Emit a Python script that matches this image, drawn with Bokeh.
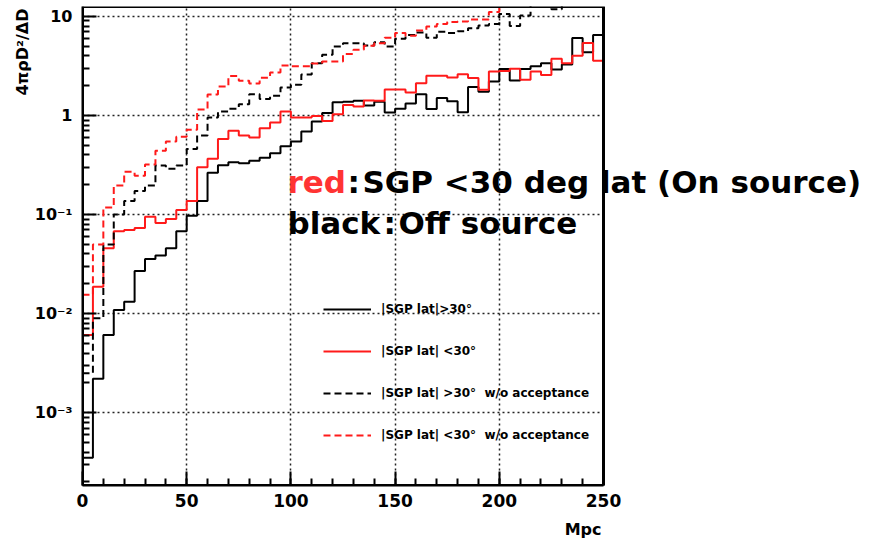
import math
from bokeh.plotting import figure
from bokeh.models import (Range1d, FixedTicker, CustomJSTickFormatter, Label, Legend, LegendItem,
                          BoxAnnotation, Title, Grid)
from bokeh.embed import file_html
from bokeh.resources import INLINE

# ---- data -------------------------------------------------------------
bin_edges = list(range(0, 255, 5))  # Mpc, 50 bins of 5 Mpc

off_source = [3.5e-4, 2.2e-3, 6.1e-3, 0.0109, 0.0132, 0.027, 0.0356, 0.0385, 0.0457, 0.068,
              0.097, 0.137, 0.265, 0.315, 0.338, 0.33, 0.35, 0.375, 0.416, 0.49,
              0.546, 0.69, 0.87, 1.06, 1.36, 1.38, 1.41, 1.26, 1.38, 1.07,
              1.17, 1.32, 1.64, 1.16, 1.50, 1.39, 1.08, 1.94, 1.74, 2.2,
              2.94, 2.25, 2.95, 3.15, 3.37, 2.92, 3.28, 6.05, 4.35, 6.5]

on_source = [0.0061, 0.0187, 0.0457, 0.068, 0.070, 0.073, 0.095, 0.082, 0.090, 0.111,
             0.137, 0.30, 0.365, 0.58, 0.70, 0.63, 0.60, 0.745, 0.85, 1.10,
             0.955, 0.955, 0.99, 0.88, 1.03, 1.28, 1.23, 1.42, 1.41, 1.83,
             1.83, 1.71, 2.12, 2.52, 2.52, 2.42, 2.61, 2.39, 1.82, 2.78,
             2.82, 2.96, 2.30, 2.78, 2.57, 3.74, 3.37, 4.0, 5.4, 3.57]

off_source_noacc = [0.0025, 0.009, 0.050, 0.100, 0.137, 0.173, 0.196, 0.313, 0.29, 0.313,
                    0.46, 0.63, 0.955, 1.10, 1.17, 1.30, 1.64, 1.47, 1.58, 1.92,
                    2.04, 2.6, 3.37, 4.1, 4.97, 5.37, 5.37, 5.1, 5.5, 4.97,
                    5.96, 6.5, 6.9, 6.1, 7.0, 6.8, 7.1, 7.6, 8.1, 8.4,
                    10.6, 8.0, 10.2, 14.0, 14.0, 11.8, 14.0, 14.0, 14.0, 14.0]

on_source_noacc = [0.0155, 0.050, 0.118, 0.196, 0.27, 0.247, 0.32, 0.44, 0.546, 0.61,
                   0.72, 1.15, 1.63, 1.96, 2.5, 2.24, 2.1, 2.4, 2.72, 3.2,
                   3.15, 3.15, 3.35, 3.5, 3.5, 4.17, 4.6, 5.06, 5.37, 6.1,
                   6.8, 6.4, 7.2, 7.9, 8.4, 8.8, 8.9, 9.3, 9.3, 11.1,
                   15.0, 15.0, 15.0, 15.0, 15.0, 15.0, 15.0, 15.0, 15.0, 15.0]

legend_labels = ["|SGP lat|>30°", "|SGP lat| <30°",
                 "|SGP lat| >30°  w/o acceptance", "|SGP lat| <30°  w/o acceptance"]

x_tick_values = [0, 50, 100, 150, 200, 250]
y_tick_values = [1e-3, 1e-2, 1e-1, 1, 10]
y_tick_labels = ["10⁻³", "10⁻²", "10⁻¹", "1", "10"]

x_label = "Mpc"
y_label = "4πρD²/ΔD"

# ---- figure -----------------------------------------------------------
FONT = "DejaVu Sans"
L, R, T, B = 82, 603, 6, 486       # pixel box of the histogram area
W, H = 873, 546
X0, X1 = 0, 250
Y0, Y1 = 1.84e-4, 12.6
# the frame is widened to the right edge so that the overlay text is not clipped
x_end = X1 * (W - L) / (R - L)

p = figure(width=W, height=H, x_range=Range1d(X0, x_end), y_range=Range1d(Y0, Y1),
           y_axis_type="log", output_backend="svg", toolbar_location=None,
           min_border_left=L, min_border_right=0, min_border_top=T, min_border_bottom=H - B)
p.background_fill_color = "white"
p.border_fill_color = "white"
p.outline_line_color = None

xt = FixedTicker(ticks=x_tick_values, minor_ticks=list(range(10, 250, 10)))
yminor = [m * 10.0 ** k for k in range(-4, 2) for m in range(2, 10)]
yt = FixedTicker(ticks=y_tick_values, minor_ticks=yminor)
p.xaxis.ticker = xt
p.yaxis.ticker = yt
p.xaxis.bounds = (X0, X1)
p.xgrid.ticker = xt
p.ygrid.ticker = yt
p.yaxis.formatter = CustomJSTickFormatter(args=dict(vals=y_tick_values, labs=y_tick_labels), code="""
const i = vals.findIndex(v => Math.abs(Math.log10(v) - Math.log10(tick)) < 1e-6);
return i >= 0 ? labs[i] : "";
""")

for ax in (p.xaxis, p.yaxis):
    ax.axis_line_width = 2
    ax.axis_line_color = "black"
    ax.major_tick_in = 14
    ax.major_tick_out = 0
    ax.minor_tick_in = 7
    ax.minor_tick_out = 0
    ax.major_tick_line_width = 2
    ax.minor_tick_line_width = 2
    ax.major_label_text_font = FONT
    ax.major_label_text_font_style = "bold"
    ax.major_label_text_color = "black"
p.xaxis.major_label_text_font_size = "17px"
p.yaxis.major_label_text_font_size = "16px"
p.xaxis.major_label_standoff = 8
p.yaxis.major_label_standoff = 10

for g in (p.xgrid, p.ygrid):
    g.grid_line_color = "#222222"
    g.grid_line_dash = "2 3"
    g.grid_line_width = 1.5

if "cross_bounds" in Grid.properties():
    p.ygrid.cross_bounds = (X0, X1)
else:
    p.ygrid.grid_line_color = None
    p.segment(x0=[X0] * len(y_tick_values), x1=[X1] * len(y_tick_values),
              y0=y_tick_values, y1=y_tick_values, line_color="#222222",
              line_dash="2 3", line_width=1.5, level="underlay")

# frame box of the histogram area
p.add_layout(BoxAnnotation(left=X0, right=X1, bottom=Y0, top=Y1, fill_alpha=0,
                           line_color="black", line_width=3, line_alpha=1))

def step_xy(vals):
    return bin_edges, list(vals) + [vals[-1]]

series = [
    (off_source, "black", "solid"),
    (on_source, "#ff1a1a", "solid"),
    (off_source_noacc, "black", "7 4"),
    (on_source_noacc, "#ff1a1a", "7 4"),
]
items = []
for (vals, col, dash), lab in zip(series, legend_labels):
    xs, ys = step_xy(vals)
    r = p.step(xs, ys, mode="after", line_color=col, line_width=2, line_dash=dash)
    items.append(LegendItem(label=lab, renderers=[r]))

leg = Legend(items=items, location=(323 - L, B - 444), glyph_width=48, glyph_height=16,
             label_height=16, spacing=26, padding=0, margin=0, label_standoff=10,
             label_text_font=FONT, label_text_font_style="bold", label_text_font_size="12px",
             label_text_color="black", background_fill_alpha=0, border_line_alpha=0)
p.add_layout(leg)

# axis titles
p.add_layout(Title(text=y_label, align="right", offset=2, text_font=FONT, text_color="black",
                   text_font_style="bold", text_font_size="16px", standoff=0), "left")
p.add_layout(Title(text=x_label, align="right", offset=W - 601, text_font=FONT, text_color="black",
                   text_font_style="bold", text_font_size="16px", standoff=16), "below")

# overlay annotation
def big(text, cx, cy, color="black"):
    p.add_layout(Label(x=cx - L, y=B - cy, x_units="screen", y_units="screen", text=text,
                       text_align="left", text_baseline="alphabetic", text_color=color,
                       text_font=FONT, text_font_style="bold", text_font_size="31px"))

big("red", 287, 182, "#ff3333")
big(":", 347, 182)
big("SGP <30 deg lat (On source)", 362, 182)
big("black", 287, 223)
big(":", 383, 223)
big("Off source", 398, 223)

open("out.html", "w").write(file_html(p, INLINE))
